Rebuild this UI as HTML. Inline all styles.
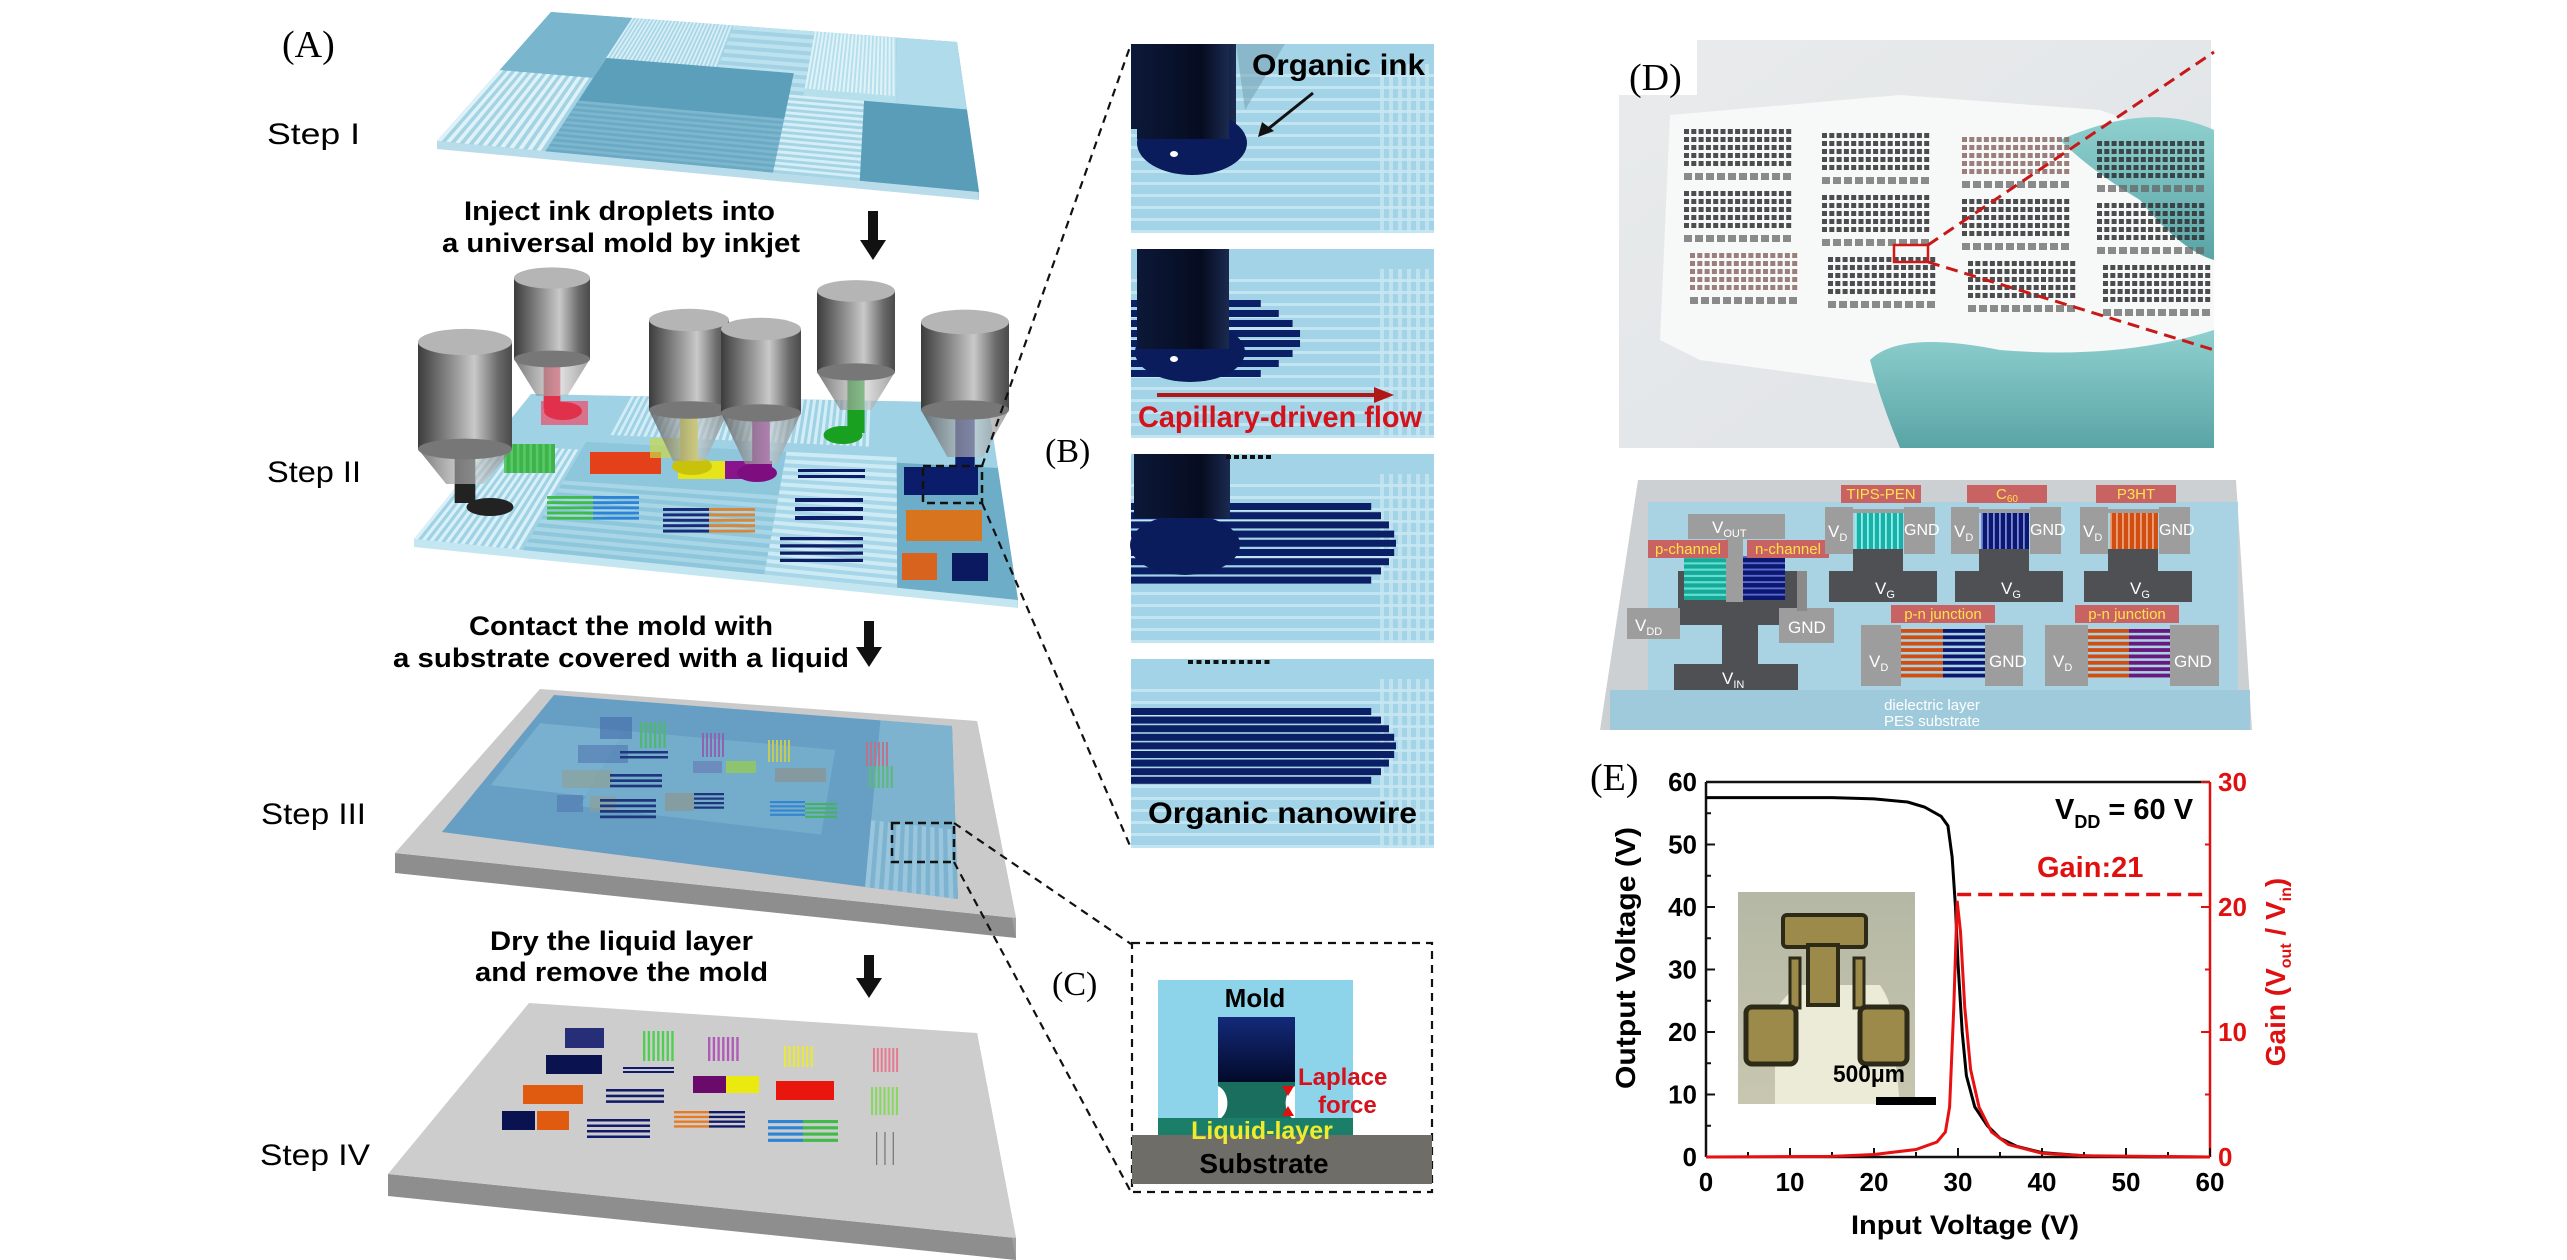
<!DOCTYPE html>
<html><head><meta charset="utf-8"><style>
html,body{margin:0;padding:0;background:#fff;}
svg{display:block;font-family:"Liberation Sans",sans-serif;}
.b{font-weight:bold}
.ser{font-family:"Liberation Serif",serif}
</style></head><body>
<svg id="s" xmlns="http://www.w3.org/2000/svg" width="2567" height="1260" viewBox="0 0 2567 1260">
<defs>
<linearGradient id="cyl" x1="0" x2="1" y1="0" y2="0">
<stop offset="0" stop-color="#3c3c3c"/><stop offset="0.35" stop-color="#8d8d8d"/><stop offset="0.6" stop-color="#c9c9c9"/><stop offset="0.85" stop-color="#6a6a6a"/><stop offset="1" stop-color="#4a4a4a"/></linearGradient>
<linearGradient id="cone" x1="0" x2="1"><stop offset="0" stop-color="#555" stop-opacity=".8"/><stop offset=".6" stop-color="#ccc" stop-opacity=".6"/><stop offset="1" stop-color="#777" stop-opacity=".7"/></linearGradient>
<linearGradient id="navyG" x1="0" y1="0" x2="0" y2="1"><stop offset="0" stop-color="#142a7a"/><stop offset="1" stop-color="#020a2a"/></linearGradient>
<linearGradient id="noz" x1="0" x2="1"><stop offset="0" stop-color="#0c1838"/><stop offset=".7" stop-color="#060c20"/><stop offset="1" stop-color="#1b2a50"/></linearGradient>
<linearGradient id="photo" x1="0" y1="0" x2="1" y2="1"><stop offset="0" stop-color="#e9ebec"/><stop offset="1" stop-color="#dfe3e6"/></linearGradient>
<linearGradient id="glove" x1="0" y1="0" x2="0" y2="1"><stop offset="0" stop-color="#8fd0cf"/><stop offset="1" stop-color="#5aa4a6"/></linearGradient>
<linearGradient id="ins" x1="0" y1="0" x2="0" y2="1"><stop offset="0" stop-color="#b4b8a4"/><stop offset="1" stop-color="#c8c6b0"/></linearGradient>
</defs>
<rect width="2567" height="1260" fill="#fff"/>
<g id="g"></g>
<g id="t">
<text class="ser" x="282" y="57" font-size="38">(A)</text>
<text x="267" y="144" font-size="30" textLength="93" lengthAdjust="spacingAndGlyphs">Step I</text>
<text x="267" y="482" font-size="30" textLength="94" lengthAdjust="spacingAndGlyphs">Step II</text>
<text x="261" y="824" font-size="30" textLength="105" lengthAdjust="spacingAndGlyphs">Step III</text>
<text x="260" y="1165" font-size="30" textLength="110" lengthAdjust="spacingAndGlyphs">Step IV</text>
<text class="b" x="464" y="220" font-size="27" textLength="311" lengthAdjust="spacingAndGlyphs">Inject ink droplets into</text>
<text class="b" x="442" y="252" font-size="27" textLength="358" lengthAdjust="spacingAndGlyphs">a universal mold by inkjet</text>
<text class="b" x="469" y="635" font-size="27" textLength="304" lengthAdjust="spacingAndGlyphs">Contact the mold with</text>
<text class="b" x="393" y="667" font-size="27" textLength="456" lengthAdjust="spacingAndGlyphs">a substrate covered with a liquid</text>
<text class="b" x="490" y="950" font-size="27" textLength="263" lengthAdjust="spacingAndGlyphs">Dry the liquid layer</text>
<text class="b" x="475" y="981" font-size="27" textLength="293" lengthAdjust="spacingAndGlyphs">and remove the mold</text>
<text class="ser" x="1045" y="462" font-size="34">(B)</text>
<text class="ser" x="1052" y="995" font-size="34">(C)</text>
<text class="b" x="1252" y="75" font-size="30" textLength="173" lengthAdjust="spacingAndGlyphs">Organic ink</text>
<text class="b" x="1138" y="427" font-size="30" fill="#d4121c" textLength="284" lengthAdjust="spacingAndGlyphs">Capillary-driven flow</text>
<text class="b" x="1148" y="823" font-size="30" textLength="269" lengthAdjust="spacingAndGlyphs">Organic nanowire</text>
<text class="b" x="1255" y="1007" font-size="26" text-anchor="middle">Mold</text>
<text class="b" x="1298" y="1085" font-size="24" fill="#d4121c">Laplace</text>
<text class="b" x="1318" y="1113" font-size="24" fill="#d4121c">force</text>
<text class="b" x="1262" y="1139" font-size="25" fill="#f2ea2e" text-anchor="middle">Liquid-layer</text>
<text class="b" x="1264" y="1173" font-size="28" text-anchor="middle">Substrate</text>
</g>
</svg>
<script>
const NS='http://www.w3.org/2000/svg';
const G=document.getElementById('g');
function el(t,a,p){const e=document.createElementNS(NS,t);for(const k in a)e.setAttribute(k,a[k]);(p||G).appendChild(e);return e;}
function bl(Q,u,v){const[TL,TR,BR,BL]=Q;const tx=TL[0]+(TR[0]-TL[0])*u,ty=TL[1]+(TR[1]-TL[1])*u,bx=BL[0]+(BR[0]-BL[0])*u,by=BL[1]+(BR[1]-BL[1])*u;return[tx+(bx-tx)*v,ty+(by-ty)*v];}
function pts(a){return a.map(p=>p[0].toFixed(1)+','+p[1].toFixed(1)).join(' ');}
function q(Q,u0,u1,v0,v1,f,ex){return el('polygon',Object.assign({points:pts([bl(Q,u0,v0),bl(Q,u1,v0),bl(Q,u1,v1),bl(Q,u0,v1)]),fill:f},ex||{}));}
function stU(Q,u0,u1,v0,v1,n,f,w){w=w||0.5;for(let i=0;i<n;i++){const a=u0+(u1-u0)*i/n;q(Q,a,a+(u1-u0)/n*w,v0,v1,f);}}
function stV(Q,u0,u1,v0,v1,n,f,w){w=w||0.5;for(let i=0;i<n;i++){const a=v0+(v1-v0)*i/n;q(Q,u0,u1,a,a+(v1-v0)/n*w,f);}}
function slab(Q,th,top,side,side2){const[TL,TR,BR,BL]=Q;
 el('polygon',{points:pts([BL,BR,[BR[0],BR[1]+th],[BL[0],BL[1]+th]]),fill:side});
 el('polygon',{points:pts([TR,BR,[BR[0],BR[1]+th],[TR[0],TR[1]+th]]),fill:side2||side});
 el('polygon',{points:pts(Q),fill:top});}
function rect(x,y,w,h,f,ex){return el('rect',Object.assign({x,y,width:w,height:h,fill:f},ex||{}));}
function line(x1,y1,x2,y2,s,w,ex){return el('line',Object.assign({x1,y1,x2,y2,stroke:s,'stroke-width':w},ex||{}));}
function hs(x,y,w,h,n,f,gap){for(let i=0;i<n;i++)rect(x,y+i*h/n,w,h/n*(gap||0.55),f);}
function vs(x,y,w,h,n,f,gap){for(let i=0;i<n;i++)rect(x+i*w/n,y,w/n*(gap||0.55),h,f);}
function arrowDown(x,y1,y2){rect(x-5,y1,10,y2-y1-18,'#111');el('polygon',{points:`${x-13},${y2-20} ${x+13},${y2-20} ${x},${y2}`,fill:'#111'});}

/* ---------- Step I ---------- */
const P1=[[551,12],[957,42],[979,192],[437,141]];
slab(P1,8,'#7ab7cf','#b9dcea','#a6d0e0');
q(P1,0,.2,0,.45,'#79b5cd');
q(P1,.2,.45,0,.45,'#a9d6e6');stU(P1,.2,.45,0,.4,28,'#d8eff7');
q(P1,.45,.65,0,.45,'#a2d2e3');stV(P1,.45,.65,0,.45,8,'#bde2ef');
q(P1,.65,.85,0,.45,'#b6dfec');stU(P1,.65,.85,0,.4,22,'#e0f3f9');
q(P1,.85,1,0,.45,'#b0dbea');
q(P1,.2,.62,.3,.62,'#5b9fbb');
q(P1,0,.2,.45,1,'#a4d3e4');stU(P1,0,.2,.45,1,12,'#dff2f9');
q(P1,.2,.62,.62,1,'#6aaac4');stV(P1,.2,.62,.62,1,10,'#7db6cd');
q(P1,.62,.78,.45,1,'#a5d4e5');stV(P1,.62,.78,.45,1,14,'#d6eef7');
q(P1,.78,1,.45,1,'#5a9db9');
arrowDown(873,211,260);

/* ---------- Step II ---------- */
const P2=[[531,394],[988,403],[1018,600],[414,539]];
slab(P2,8,'#9fd2e4','#c4e6f1','#b5dce9');
stU(P2,0,.18,.35,1,14,'#d9f0f8');
stU(P2,.22,.75,0,.25,40,'#d3edf6');
q(P2,.18,.58,.3,1,'#8ec7dc');stV(P2,.18,.58,.55,1,9,'#a8d6e6');
q(P2,.58,.8,.3,1,'#a6d6e7');stV(P2,.58,.8,.3,1,16,'#cdebf5');
q(P2,.8,1,.33,1,'#6eadc7');
rect(541,401,47,24,'#e0607c',{opacity:.85});
rect(504,444,51,29,'#3db34a');vs(504,444,51,29,8,'#59c867',.4);
rect(590,452,71,22,'#e4401a');
rect(650,438,40,20,'#c9d84a',{opacity:.7});
rect(678,461,47,18,'#e7e51a');rect(725,461,47,18,'#8a148c');
hs(547,496,46,26,5,'#3fbb4a');hs(593,496,46,26,5,'#2d83d5');
hs(663,508,46,27,5,'#1b2a78');hs(709,508,46,27,5,'#d8873a');
hs(798,469,67,12,2,'#0d1d66',.5);hs(795,498,68,27,3,'#0d1d66',.45);hs(780,537,83,29,4,'#0d1d66',.45);
rect(904,467,74,28,'#0b1d6a');rect(906,510,76,31,'#d8731e');rect(902,553,35,27,'#d8631e');rect(952,553,36,28,'#0b1a60');
function nozzle(cx,top,r,bb,cb,ib,ink,dx,dy){
 rect(cx-r*0.22,bb-10,r*0.44,ib-bb+8,ink);
 el('ellipse',{cx:dx||cx,cy:dy||ib,rx:r*0.5,ry:9,fill:ink});
 el('polygon',{points:`${cx-r},${bb} ${cx+r},${bb} ${cx+r*0.4},${cb} ${cx-r*0.4},${cb}`,fill:'url(#cone)'});
 rect(cx-r,top,2*r,bb-top,'url(#cyl)');
 el('ellipse',{cx:cx,cy:bb,rx:r,ry:r*0.22,fill:'#777'});
 el('ellipse',{cx:cx,cy:top,rx:r,ry:r*0.28,fill:'#b5b5b5'});
}
nozzle(465,342,47,449,484,505,'#222',490,507);
nozzle(552,278,38,359,396,411,'#e0304a',563,411);
nozzle(689,320,40,410,461,466,'#c8c30a',692,466);
nozzle(761,329,40,413,464,473,'#7e0e80',757,473);
nozzle(856,291,39,372,410,435,'#19a020',843,435);
nozzle(965,322,44,410,457,481,'#0b1d6a',941,481);
el('rect',{x:923,y:466,width:59,height:37,fill:'none',stroke:'#111','stroke-width':2.5,'stroke-dasharray':'8,5'});
arrowDown(869,621,667);

/* ---------- Step III ---------- */
const P3=[[540,689],[977,721],[1016,918],[395,853]];
slab(P3,20,'#cacaca','#8e8e8e','#a0a0a0');
const F3=[[554,695],[952,726],[958,899],[442,832]];
el('polygon',{points:pts(F3),fill:'#6ba3c6'});
q(F3,.22,.72,.2,.72,'#7ab3d0');q(F3,.02,.22,.2,.65,'#80b8d4');
q(F3,.82,1,.0,1,'#86bbd4');stU(F3,.82,1,.6,1,10,'#a8d2e4');
const fade={opacity:.55};
rect(600,717,32,22,'#3a5aa0',fade);vs(640,722,28,26,6,'#4ec060',.5);vs(702,733,24,24,6,'#9a5ab0',.5);vs(768,740,24,22,6,'#d8d840',.5);vs(866,742,24,24,6,'#d07080',.5);
rect(578,745,50,18,'#4a6aa8',fade);hs(620,751,48,10,2,'#12246e',.5);rect(693,761,29,12,'#6a6ab0',fade);rect(726,761,30,12,'#9ad060',.7);rect(775,768,51,14,'#a08870',fade);vs(869,766,26,22,6,'#60c070',.5);
rect(562,770,50,18,'#a0a080',fade);hs(610,774,52,16,3,'#12246e',.5);
rect(557,795,26,17,'#4a70b0',fade);rect(590,796,26,16,'#a0a080',fade);hs(600,799,56,22,4,'#12246e',.5);rect(665,793,29,18,'#a09070',fade);hs(694,793,30,18,4,'#12246e',.5);hs(770,801,35,17,4,'#2d83d5',.5);hs(805,803,32,17,4,'#3fbb4a',.5);
el('polygon',{points:pts(F3),fill:'#5a8fbf',opacity:.18});
el('rect',{x:892,y:823,width:62,height:39,fill:'none',stroke:'#111','stroke-width':2.5,'stroke-dasharray':'8,5'});
arrowDown(869,955,998);

/* ---------- Step IV ---------- */
const P4=[[529,1003],[977,1033],[1016,1238],[388,1174]];
slab(P4,22,'#cdcdcd','#8e8e8e','#9e9e9e');
rect(565,1028,39,20,'#262e78');vs(643,1031,33,30,7,'#4fcf50',.5);vs(708,1037,33,24,7,'#b05ab8',.5);vs(784,1046,31,21,7,'#e8e840',.5);vs(873,1048,27,24,7,'#e87890',.5);
rect(546,1055,56,19,'#0a1250');hs(623,1067,51,8,2,'#121a6a',.5);rect(693,1076,33,17,'#6a0a6a');rect(726,1076,33,17,'#eaea10');rect(776,1081,58,19,'#e8160c');
rect(523,1085,60,19,'#e05a10');hs(606,1089,58,17,3,'#121a6a',.45);vs(871,1087,29,28,7,'#88d860',.5);
rect(502,1111,33,19,'#0a1250');rect(537,1111,32,19,'#e05a10');hs(587,1119,63,22,4,'#121a6a',.45);hs(674,1111,35,19,4,'#e87a20',.5);hs(709,1111,36,19,4,'#121a6a',.5);hs(768,1120,35,25,4,'#2d83d5',.5);hs(803,1120,35,25,4,'#3fbb4a',.5);
vs(876,1132,25,33,3,'#777',.15);

/* ---------- dashed connectors ---------- */
const dash={'stroke-dasharray':'8,6'};
line(982,466,1131,44,'#111',2.2,dash);line(982,503,1131,848,'#111',2.2,dash);
line(954,823,1131,944,'#111',2.2,dash);line(954,862,1131,1192,'#111',2.2,dash);

/* ---------- B panels ---------- */
function panel(y){rect(1131,y,303,189,'#a3d3e6');
 for(let i=0;i<14;i++)rect(1131,y+30+i*12,303,3,'#c3e5f1');
 for(let i=0;i<6;i++)rect(1380+i*9,y+20,4,169,'#c7e6f1',{opacity:.8});
 rect(1131,y+189,303,0,'#fff');}
panel(44);
rect(1131,44,105,85,'url(#noz)');el('polygon',{points:'1236,44 1285,44 1245,110',fill:'#7aa7b8',opacity:.6});
el('ellipse',{cx:1192,cy:143,rx:55,ry:32,fill:'#0a1c5c'});rect(1137,44,92,95,'url(#noz)');
el('ellipse',{cx:1174,cy:154,rx:4,ry:3,fill:'#fff'});
line(1313,93,1268,129,'#111',3);el('polygon',{points:'1258,137 1262,122 1274,131',fill:'#111'});
panel(249);
for(let i=0;i<8;i++){const w=120+Math.sin((i+0.5)/8*Math.PI)*50;rect(1131,300+i*10,w,7,'#0b1f66');}
el('ellipse',{cx:1190,cy:352,rx:55,ry:30,fill:'#0a1c5c'});rect(1137,249,92,100,'url(#noz)');
el('ellipse',{cx:1174,cy:359,rx:4,ry:3,fill:'#fff'});
line(1157,395,1380,395,'#b01818',4);el('polygon',{points:'1374,387 1394,395 1374,403',fill:'#b01818'});
panel(454);
for(let i=0;i<9;i++){const w=235+Math.sin((i+0.5)/9*Math.PI)*30;rect(1131,503+i*9.2,w,7,'#0b1f66');}
el('ellipse',{cx:1185,cy:545,rx:55,ry:30,fill:'#0a1c5c'});rect(1134,454,96,64,'url(#noz)');
for(let i=0;i<6;i++)rect(1226+i*8,455,5,4,'#111');
panel(659);
for(let i=0;i<9;i++){const w=235+Math.sin((i+0.5)/9*Math.PI)*30;rect(1131,708+i*8.6,w,7,'#0b1f66');}
for(let i=0;i<10;i++)rect(1188+i*8.5,660,5,4,'#111');

/* ---------- C ---------- */
el('rect',{x:1132,y:943,width:300,height:249,fill:'none',stroke:'#111','stroke-width':2.2,'stroke-dasharray':'8,6'});
rect(1158,980,195,155,'#8dd3ea');rect(1218,1017,77,65,'url(#navyG)');
rect(1218,1082,77,40,'#1a6e5e');
el('path',{d:'M1218,1086 A14,18 0 0 1 1218,1120 Z',fill:'#fff'});
el('path',{d:'M1295,1086 A14,18 0 0 0 1295,1120 Z',fill:'#fff'});
rect(1158,1118,195,17,'#1a7e68');rect(1132,1135,300,49,'#6f6d68');
el('polygon',{points:'1282,1086 1294,1086 1288,1096',fill:'#e01010'});el('polygon',{points:'1282,1116 1294,1116 1288,1106',fill:'#e01010'});

/* ---------- D photo ---------- */
rect(1619,40,592,408,'url(#photo)');
el('polygon',{points:'1670,115 1900,95 2100,110 2214,150 2214,420 1960,395 1700,360 1660,340',fill:'#f7f8f8'});
el('path',{d:'M2060,140 Q2150,100 2214,130 L2214,260 Q2180,250 2140,200 Q2090,170 2060,140Z',fill:'url(#glove)'});
el('path',{d:'M1870,360 Q1900,330 2000,350 Q2120,360 2214,330 L2214,448 L1900,448 Q1880,400 1870,360Z',fill:'url(#glove)'});
const blockX=[1684,1822,1962,2097];
for(let r=0;r<3;r++)for(let c=0;c<4;c++){
 const x0=blockX[c]+(r==2?6:0),y0=129+r*62+c*4;
 const col=(r==2&&c<1)||(c==2&&r==0)?'#8a6a66':'#2f2f33';
 for(let k=0;k<5;k++)for(let j=0;j<15;j++){const xx=x0+j*7.3;if(xx>2208)continue;rect(xx,y0+k*8,5,5,col,{opacity:.85});}
 for(let j=0;j<10;j++){const xx=x0+j*11;if(xx>2205)continue;rect(xx,y0+44,8,7,'#666',{opacity:.75});}
}
rect(1619,40,78,55,'#fff');
el('text',{x:1629,y:90,'font-size':38,class:'ser'}).textContent='(D)';
el('rect',{x:1894,y:245,width:34,height:17,fill:'none',stroke:'#d01818','stroke-width':2.5});
line(1928,245,2214,52,'#c81818',3,{'stroke-dasharray':'12,7'});
line(1928,262,2214,350,'#c81818',3,{'stroke-dasharray':'12,7'});

/* ---------- circuit ---------- */
el('polygon',{points:'1638,480 2236,480 2252,730 1600,730',fill:'#cdd0d2'});
rect(1648,502,590,228,'#a9d3e2');rect(1610,690,640,40,'#9fcadb');
const gr='#9d9d9d',dk='#4f5053';
// inverter
rect(1678,571,128,54,dk);rect(1722,625,36,41,dk);rect(1674,664,124,26,dk);
rect(1688,514,97,25,gr);rect(1726,538,17,64,gr);
rect(1684,556,42,44,'#18a898');hs(1684,556,42,44,7,'#5fe0d0',.35);
rect(1743,556,42,44,'#0c1870');hs(1743,556,42,44,7,'#5a6ad0',.3);
rect(1627,608,53,31,gr);rect(1779,608,55,35,gr);rect(1797,571,10,40,'#8a8a8a');
function lab(x,y,w,t){rect(x,y,w,18,'#c96363');const e=el('text',{x:x+w/2,y:y+14,'font-size':15,fill:'#ffe14a','text-anchor':'middle'});e.textContent=t;return e;}
function wt(x,y,t,s,sub){const e=el('text',{x,y,'font-size':s||17,fill:'#fff'});e.textContent=t;if(sub){const ts=el('tspan',{'font-size':11,dy:4},e);ts.textContent=sub;}}
lab(1648,540,80,'p-channel');lab(1747,540,82,'n-channel');
wt(1712,533,'V',17,'OUT');wt(1635,631,'V',17,'DD');wt(1788,633,'GND',17);wt(1722,684,'V',17,'IN');
// TFTs
const tc=[['#18b0a8','TIPS-PEN'],['#0c1870','C60'],['#d24e10','P3HT']];
[0,126,255].forEach((o,i)=>{
 rect(1853+o,549,50,22,dk);rect(1829+o,571,108,31,dk);
 rect(1825+o,507,28,47,gr);rect(1904+o,507,31,47,gr);rect(1853+o,509,51,4,gr);
 rect(1855+o,513,48,36,tc[i][0]);vs(1855+o,513,48,36,8,i==0?'#8ff0e8':'#7a8ad8',.3);
 if(i==2)vs(1855+o,513,48,36,8,'#f0a070',.3);
 const L=lab(1841+o,485,80,i==1?'C':tc[i][1]);if(i==1){const ts=el('tspan',{'font-size':10,dy:3},L);ts.textContent='60';}
 wt(1828+o,537,'V',17,'D');wt(1904+o,535,'GND',16);wt(1875+o,594,'V',17,'G');
});
// pn junctions
function pn(x1,x2,x3,x4,c1,c2,lx){
 rect(x1,625,x2-x1,61,gr);rect(x3,625,x4-x3,61,gr);
 const m=(x2+x3)/2;hs(x2,629,m-x2,51,8,c1,.6);hs(m,629,x3-m,51,8,c2,.6);
 lab(lx,605,104,'p-n junction');wt(x1+8,667,'V',17,'D');wt(x3+4,667,'GND',17);}
pn(1861,1901,1985,2023,'#d24e10','#0c1870',1891);
pn(2045,2088,2170,2219,'#d24e10','#6a1880',2075);
el('text',{x:1932,y:710,'font-size':15,fill:'#fff','text-anchor':'middle'}).textContent='dielectric layer';
el('text',{x:1932,y:726,'font-size':15,fill:'#fff','text-anchor':'middle'}).textContent='PES substrate';

/* ---------- chart ---------- */
const X=v=>1706+v*8.4, Y=v=>1157-v*6.25, YR=g=>1157-g*12.5;
el('text',{x:1590,y:790,'font-size':38,class:'ser'}).textContent='(E)';
// inset photo
rect(1738,892,177,212,'url(#ins)');
el('path',{d:'M1775,1104 L1775,1010 Q1790,990 1800,985 L1880,985 Q1890,1000 1890,1010 L1900,1104Z',fill:'#ecebd8'});
const au='#9b8a4a';
rect(1783,915,83,32,au,{stroke:'#2d2a18','stroke-width':4,rx:4});rect(1808,945,30,60,au,{stroke:'#2d2a18','stroke-width':4});
rect(1790,958,10,50,au,{stroke:'#2d2a18','stroke-width':3});rect(1854,958,10,50,au,{stroke:'#2d2a18','stroke-width':3});
rect(1746,1007,50,57,au,{stroke:'#2d2a18','stroke-width':5,rx:6});rect(1860,1007,47,57,au,{stroke:'#2d2a18','stroke-width':5,rx:6});
rect(1876,1097,60,8,'#000');
const mt=el('text',{x:1869,y:1082,'font-size':24,'font-weight':'bold','text-anchor':'middle','textLength':72,'lengthAdjust':'spacingAndGlyphs'});mt.textContent='500μm';
// axes
line(1706,782,2210,782,'#111',2.5);line(1706,782,1706,1157,'#111',2.5);line(1706,1157,2210,1157,'#111',2.5);line(2210,782,2210,1157,'#e01010',2.5);
for(let v=0;v<=60;v+=5){const big=v%10==0;line(X(v),1157,X(v),1157-(big?9:5),'#111',2);line(1706,Y(v),1706+(big?9:5),Y(v),'#111',2);}
for(let g=0;g<=30;g+=5){const big=g%10==0;line(2210,YR(g),2210-(big?9:5),YR(g),'#e01010',2);}
for(let v=0;v<=60;v+=10){
 el('text',{x:1697,y:Y(v)+9,'font-size':26,'font-weight':'bold','text-anchor':'end'}).textContent=v;
 el('text',{x:X(v),y:1191,'font-size':26,'font-weight':'bold','text-anchor':'middle'}).textContent=v;}
for(let g=0;g<=30;g+=10)el('text',{x:2218,y:YR(g)+9,'font-size':26,'font-weight':'bold',fill:'#e01010'}).textContent=g;
const it=el('text',{x:1851,y:1234,'font-size':27,'font-weight':'bold','textLength':228,'lengthAdjust':'spacingAndGlyphs'});it.textContent='Input Voltage (V)';
const ot=el('text',{x:0,y:0,'font-size':28,'font-weight':'bold','text-anchor':'middle',transform:'translate(1635,958) rotate(-90)','textLength':262,'lengthAdjust':'spacingAndGlyphs'});ot.textContent='Output Voltage (V)';
const gt=el('text',{x:0,y:0,'font-size':28,'font-weight':'bold',fill:'#e01010','text-anchor':'middle',transform:'translate(2285,972) rotate(-90)'});
gt.appendChild(document.createTextNode('Gain (V'));let s1=el('tspan',{'font-size':16,dy:6},gt);s1.textContent='out';
let s2=el('tspan',{dy:-6},gt);s2.textContent=' / V';let s3=el('tspan',{'font-size':16,dy:6},gt);s3.textContent='in';let s4=el('tspan',{dy:-6},gt);s4.textContent=')';
const vd=el('text',{x:2055,y:819,'font-size':29,'font-weight':'bold'});vd.appendChild(document.createTextNode('V'));let d1=el('tspan',{'font-size':18,dy:9},vd);d1.textContent='DD';let d2=el('tspan',{dy:-9},vd);d2.textContent=' = 60 V';
el('text',{x:2037,y:877,'font-size':29,'font-weight':'bold',fill:'#e01010'}).textContent='Gain:21';
// curves
const blk=[[0,57.5],[15,57.5],[20,57.3],[24,56.8],[26,56],[28,54.5],[28.8,53],[29.3,48],[29.7,40],[30,31],[30.5,20],[31,13],[32,8],[33.5,5],[35,3],[37,1.7],[40,0.7],[45,0.2],[50,0.05],[60,0]];
el('polyline',{points:blk.map(p=>X(p[0])+','+Y(p[1])).join(' '),fill:'none',stroke:'#000','stroke-width':3});
const red=[[0,0],[15,0.05],[20,0.2],[25,0.6],[27.5,1.2],[28.5,2],[29,4],[29.5,12],[29.9,20.5],[30.3,18],[30.8,12],[31.5,7],[32.5,4],[34,2],[36,1],[40,0.3],[45,0.1],[60,0]];
el('polyline',{points:red.map(p=>X(p[0])+','+YR(p[1])).join(' '),fill:'none',stroke:'#e81010','stroke-width':3});
line(X(29.9),YR(21),2210,YR(21),'#e01010',3.5,{'stroke-dasharray':'14,7'});
</script>
</body></html>
